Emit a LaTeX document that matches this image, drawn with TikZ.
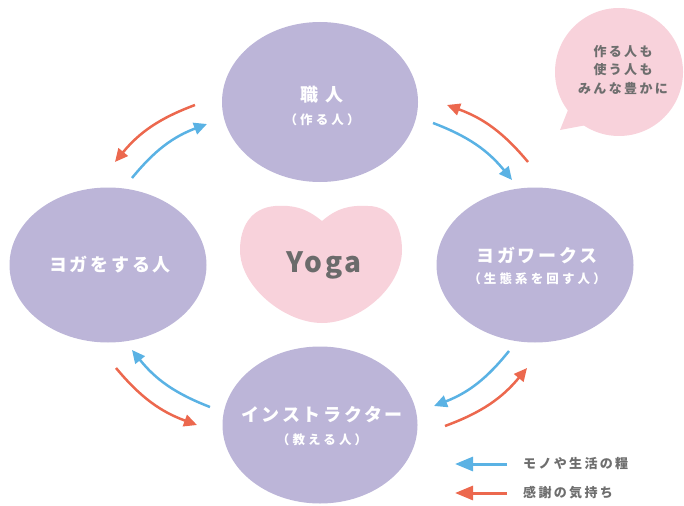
\documentclass[tikz,border=0pt]{standalone}
\usepackage{fontspec}
\setmainfont{Noto Sans CJK JP}
\newfontfamily\jpA{Noto Sans CJK JP}[LetterSpace=15]
\newfontfamily\jpB{Noto Sans CJK JP}[LetterSpace=25]
\newfontfamily\jpC{Noto Sans CJK JP}[LetterSpace=18]
\newfontfamily\latn{Noto Sans CJK JP}[LetterSpace=10]
\usetikzlibrary{shapes.geometric,arrows.meta,calc}
\definecolor{lav}{RGB}{188,181,216}
\definecolor{pinkfill}{RGB}{248,210,219}
\definecolor{ablue}{RGB}{90,178,228}
\definecolor{ared}{RGB}{236,104,78}
\definecolor{txtgray}{RGB}{110,110,110}
\tikzset{
  person/.style={ellipse, fill=lav, inner sep=0pt},
  mainlbl/.style={text=white, inner sep=0pt, font=\jpA\bfseries\fontsize{18}{20}\selectfont},
  sublbl/.style={text=white, inner sep=0pt, font=\jpB\bfseries\fontsize{12.5}{14}\selectfont},
  flow/.style={line width=2.5pt, -{Triangle[length=13pt,width=12pt]}},
  blueflow/.style={flow, draw=ablue},
  redflow/.style={flow, draw=ared},
  legflow/.style={line width=3pt, -{Triangle[length=18pt,width=14pt]}},
  graytxt/.style={text=txtgray, inner sep=0pt, font=\jpC\bfseries\fontsize{13}{18.5}\selectfont},
}
\begin{document}
\begin{tikzpicture}[x=1pt,y=1pt]
\path[use as bounding box] (0,0) rectangle (684,-505);
% ellipses
\node[person, minimum width=196pt, minimum height=160pt] (top) at (320,-102) {};
\node[person, minimum width=197pt, minimum height=155pt] (left) at (108,-265) {};
\node[person, minimum width=197pt, minimum height=155pt] (right) at (535,-265) {};
\node[person, minimum width=195pt, minimum height=157pt] (bottom) at (320,-425) {};
% labels
\node[mainlbl] (topA) at (322,-95) {職\kern8pt 人};
\node[sublbl] (topB) at (322,-120) {（作る人）};
\node[mainlbl] (leftA) at (110,-265) {ヨガをする人};
\node[mainlbl] (rightA) at (537,-255) {ヨガワークス};
\node[sublbl] (rightB) at (537,-279) {（生態系を回す人）};
\node[mainlbl] (bottomA) at (322,-415) {インストラクター};
\node[sublbl] (bottomB) at (322,-440) {（教える人）};
% heart
\fill[pinkfill] (322,-221) .. controls (305,-207) and (292,-205) .. (275,-206)
  .. controls (250,-208) and (240,-228) .. (240,-250)
  .. controls (240,-287) and (285,-323) .. (322,-323)
  .. controls (360,-323) and (402,-287) .. (402,-250)
  .. controls (402,-228) and (392,-206) .. (368,-206)
  .. controls (350,-205) and (337,-208) .. (322,-221) -- cycle;
\node[text={rgb,255:red,107;green,107;blue,107}, inner sep=0pt, font=\latn\bfseries\fontsize{28}{30}\selectfont] (yoga) at (324,-265) {Yoga};
% speech bubble
\fill[pinkfill] (619,-72) circle (64);
\fill[pinkfill] (560,-130) -- (570,-105) -- (592,-124) -- cycle;
\node[graytxt, align=center] (bubble) at (623,-70) {作る人も\\使う人も\\みんな豊かに};
% arrow end points
\coordinate (r1s) at (195,-105); \coordinate (r1e) at (115,-162);
\coordinate (b1s) at (132,-178); \coordinate (b1e) at (207,-124);
\coordinate (b2s) at (433,-123); \coordinate (b2e) at (512,-180);
\coordinate (r2s) at (528,-162); \coordinate (r2e) at (447,-105);
\coordinate (b3s) at (509,-351); \coordinate (b3e) at (434,-406);
\coordinate (r3s) at (445,-426); \coordinate (r3e) at (527,-368);
\coordinate (b4s) at (210,-407); \coordinate (b4e) at (132,-350);
\coordinate (r4s) at (116,-368); \coordinate (r4e) at (197,-425);
\draw[redflow] (r1s) to[bend right=15] (r1e);
\draw[blueflow] (b1s) to[bend left=15] (b1e);
\draw[blueflow] (b2s) to[bend left=15] (b2e);
\draw[redflow] (r2s) to[bend right=15] (r2e);
\draw[blueflow] (b3s) to[bend left=15] (b3e);
\draw[redflow] (r3s) to[bend right=15] (r3e);
\draw[blueflow] (b4s) to[bend left=15] (b4e);
\draw[redflow] (r4s) to[bend right=15] (r4e);
% legend
\coordinate (lb1) at (507,-464); \coordinate (lb2) at (455,-464);
\coordinate (lr1) at (507,-493); \coordinate (lr2) at (455,-493);
\draw[legflow, draw=ablue] (lb1) -- (lb2);
\draw[legflow, draw=ared] (lr1) -- (lr2);
\node[graytxt, anchor=west] (legB) at (523,-464) {モノや生活の糧};
\node[graytxt, anchor=west] (legR) at (523,-493) {感謝の気持ち};
\end{tikzpicture}
\end{document}
